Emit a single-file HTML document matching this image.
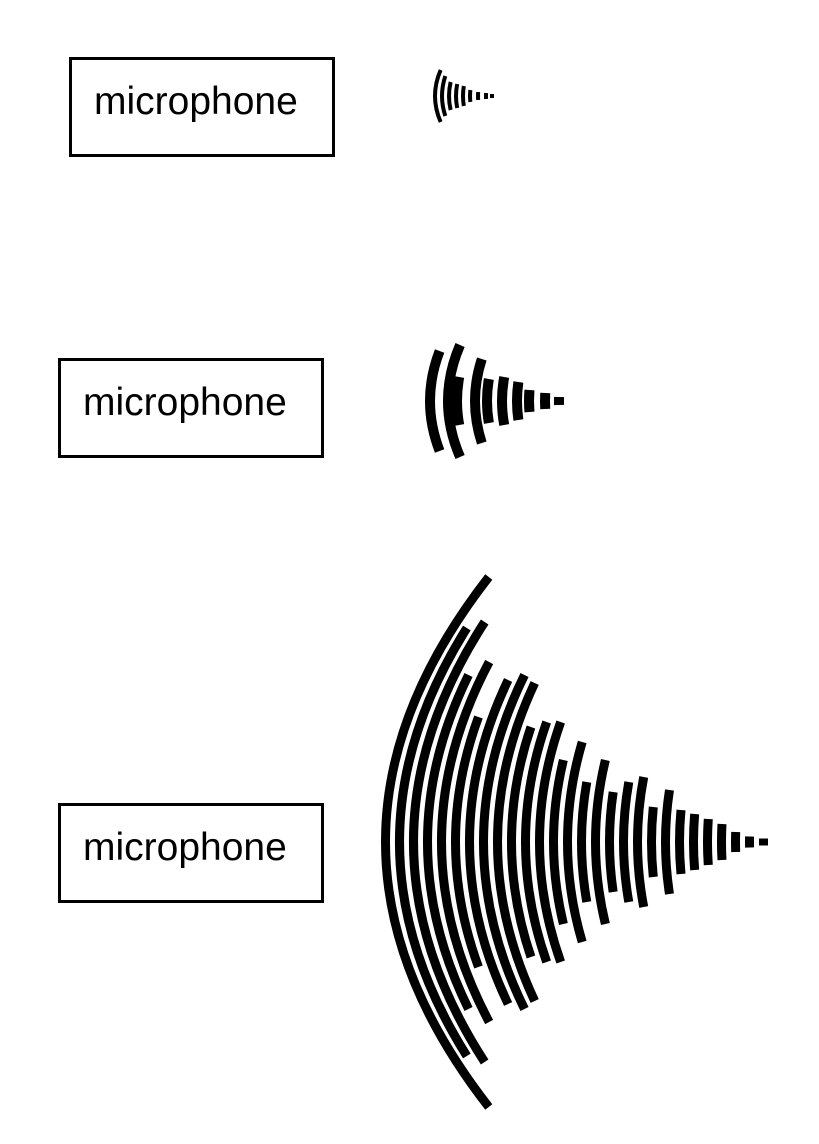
<!DOCTYPE html>
<html><head><meta charset="utf-8"><style>
html,body{margin:0;padding:0;background:#fff;}
body{width:819px;height:1144px;position:relative;overflow:hidden;}
.box{position:absolute;width:260px;height:94px;border:3px solid #000;box-sizing:content-box;}
.lbl{position:absolute;left:22px;top:20px;font-family:"Liberation Sans",sans-serif;font-size:39px;color:#000;letter-spacing:0px;}
svg{position:absolute;left:0;top:0;}
</style></head><body>
<div class="box" style="left:69px;top:57px;"><span class="lbl">microphone</span></div>
<div class="box" style="left:58px;top:358px;"><span class="lbl">microphone</span></div>
<div class="box" style="left:58px;top:803px;"><span class="lbl">microphone</span></div>
<svg id="waves" width="819" height="1144"></svg>
<script>
// small wave
const smallX=[433,440,447,454,461,468,476,484,490];
const smallH=[26,20,14,12,10,6,4,3,2];
// medium wave
const medX=[425,443,452,470,482,497,512,524,540,554];
const medH=[50,56,24,42,22,24,19,11,8,4];
// large wave
const largeX=[381,395,409,423,437,451,465,479,493,507,521,535,549,563,577,591,605,619,633,647,661,675,689,703,717,731,745,759];
const largeH=[265,214,220,167,180,125,162,167,159,115,120,120,82,100,60,82,50,60,65,35,52,32,28,23,18,10,5.5,3.5];

const svg=document.getElementById('waves');
const NS='http://www.w3.org/2000/svg';
function drawWave(xs,hs,cy,R,sw,name){
  const g=document.createElementNS(NS,'g');
  
  
  svg.appendChild(g);
  for(let i=0;i<xs.length;i++){
    const x=xs[i]+sw/2,h=hs[i];
    const bend=h*h/(2*R);
    const p=document.createElementNS(NS,'path');
    // quadratic through apex: control at x - bend
    p.setAttribute('d',`M${x+bend},${cy-h} Q${x-bend},${cy} ${x+bend},${cy+h}`);
    p.setAttribute('stroke','#000');
    p.setAttribute('stroke-width',sw);
    p.setAttribute('fill','none');
    
    
    g.appendChild(p);
  }
}
drawWave(smallX,smallH,96,60,4,'small-sound-wave');
drawWave(medX,medH,401,130,10,'medium-sound-wave');
drawWave(largeX,largeH,842,340,9,'large-sound-wave');
</script>
</body></html>
